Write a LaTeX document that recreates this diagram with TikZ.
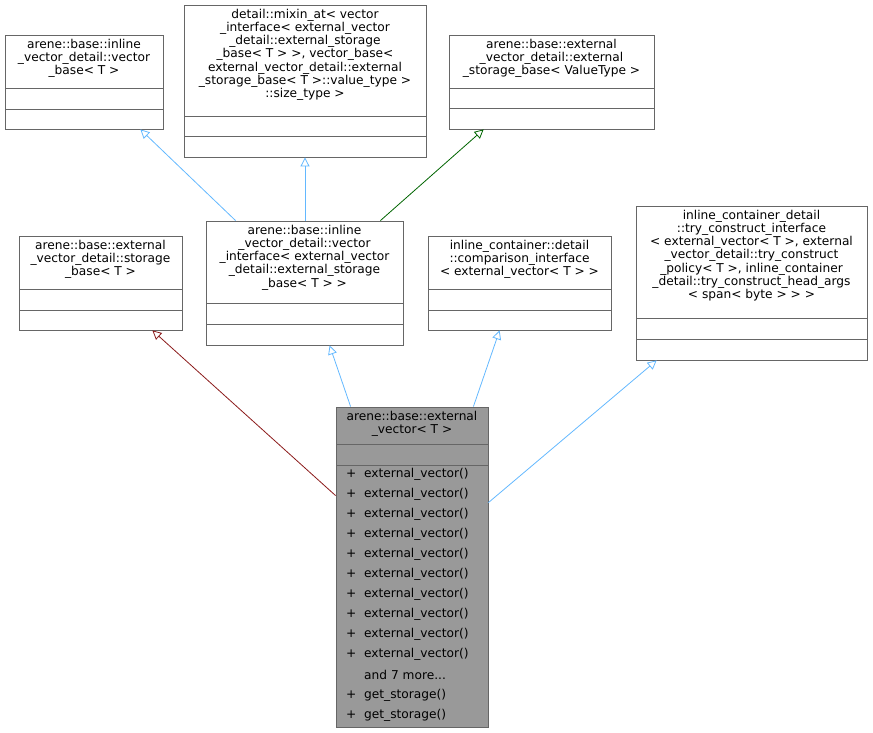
\documentclass[tikz,border=0pt]{standalone}
\usepackage{fontspec}
\setmainfont{DejaVu Sans}
\usetikzlibrary{arrows.meta, fit, calc}

\tikzset{
  box/.style={draw=black!60, line width=0.8pt, inner sep=0pt},
  title/.style={anchor=north, align=center, font=\fontsize{12.2}{13.3}\selectfont, inner sep=0pt},
  member/.style={anchor=west, font=\fontsize{12.2}{13.3}\selectfont, inner sep=0pt},
  inherit/.style={line width=0.8pt, -{Triangle[open, length=9pt, width=9pt]}},
}
\definecolor{pubblue}{HTML}{63B8FF}
\definecolor{tmplgreen}{HTML}{006400}
\definecolor{privred}{HTML}{8B1A1A}

% class box: name, x1, y1, x2, y2, first separator, second separator, title
\newcommand\umlbox[9][white]{%
  \node[box, fill=#1, fit={(#3,#4) (#5,#6)}] (#2) {};
  \draw[black!60, line width=0.8pt] (#3,#7) -- (#5,#7);
  \draw[black!60, line width=0.8pt] (#3,#8) -- (#5,#8);
  \node[title] (#2-t) at ([yshift=-4pt]#2.north) {#9};
}

\begin{document}
\begin{tikzpicture}[x=1pt, y=-1pt]
  \useasboundingbox (0,0) rectangle (873,733);

  % top row
  \umlbox{vecbase}{5}{35}{163}{129}{88}{109}{arene::base::inline\\\_vector\_detail::vector\\\_base< T >}
  \umlbox{mixin}{184}{5}{426}{157}{116}{136}{detail::mixin\_at< vector\\\_interface< external\_vector\\\_detail::external\_storage\\\_base< T > >, vector\_base<\\ external\_vector\_detail::external\\\_storage\_base< T >::value\_type >\\::size\_type >}
  \umlbox{extbase}{449}{35}{654}{129}{88}{108}{arene::base::external\\\_vector\_detail::external\\\_storage\_base< ValueType >}

  % middle row
  \umlbox{storbase}{19}{236}{182}{330}{289}{310}{arene::base::external\\\_vector\_detail::storage\\\_base< T >}
  \umlbox{vecif}{206}{221}{403}{345}{303}{324}{arene::base::inline\\\_vector\_detail::vector\\\_interface< external\_vector\\\_detail::external\_storage\\\_base< T > >}
  \umlbox{cmpif}{428}{236}{611}{330}{289}{310}{inline\_container::detail\\::comparison\_interface\\< external\_vector< T > >}
  \umlbox{tryif}{636}{206}{867}{360}{318}{339}{inline\_container\_detail\\::try\_construct\_interface\\< external\_vector< T >, external\\\_vector\_detail::try\_construct\\\_policy< T >, inline\_container\\\_detail::try\_construct\_head\_args\\< span< byte > > >}

  % the class itself
  \umlbox[black!40]{extvec}{336}{407}{488}{727}{444}{465}{arene::base::external\\\_vector< T >}
  \foreach \i in {0,...,9}
    \node[member] (m\i) at (346,474+20*\i) {+\ \ external\_vector()};
  \node[member] (more) at (364,675) {and 7 more...};
  \node[member] (gs1) at (346,695) {+\ \ get\_storage()};
  \node[member] (gs2) at (346,715) {+\ \ get\_storage()};

  % inheritance
  \draw[inherit, pubblue] ([xshift=30pt]vecif.north west) -- ([xshift=-23pt]vecbase.south east);
  \draw[inherit, pubblue] (vecif.north -| mixin.south) -- (mixin.south);
  \draw[inherit, tmplgreen] ([xshift=-23pt]vecif.north east) -- ([xshift=35pt]extbase.south west);
  \draw[inherit, privred] ([yshift=-89pt]extvec.north west) -- ([xshift=-30pt]storbase.south east);
  \draw[inherit, pubblue] ([xshift=15pt]extvec.north west) -- ([xshift=124pt]vecif.south west);
  \draw[inherit, pubblue] ([xshift=-15pt]extvec.north east) -- ([xshift=72pt]cmpif.south west);
  \draw[inherit, pubblue] ([yshift=-96pt]extvec.north east) -- ([xshift=21pt]tryif.south west);
\end{tikzpicture}
\end{document}
